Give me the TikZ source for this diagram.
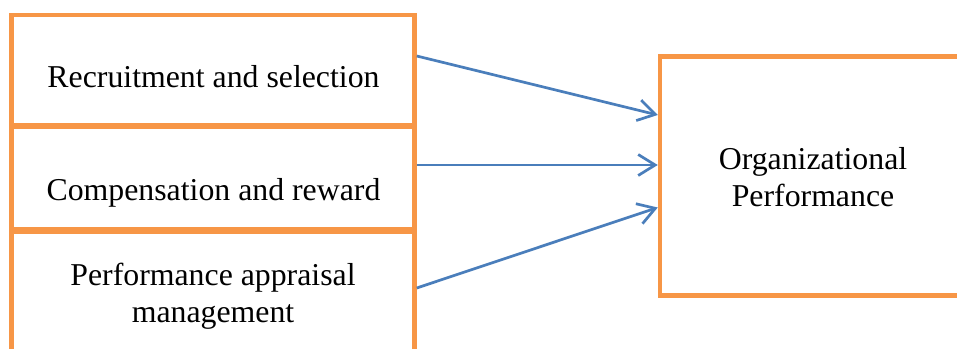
\documentclass[tikz,border=0pt]{standalone}
\usepackage{fontspec}
\setmainfont{Liberation Serif}
\usetikzlibrary{arrows.meta}
\definecolor{boxOrange}{HTML}{F79646}
\definecolor{arrBlue}{HTML}{4A7EBB}
\begin{document}
\begin{tikzpicture}[x=1pt,y=-1pt,
  hrmBox/.style={draw=boxOrange,line width=4.5pt,rectangle,inner sep=0pt},
  hrmText/.style={font=\fontsize{31.8}{37.5}\selectfont,inner sep=0pt,align=center},
  hrmArrow/.style={draw=arrBlue,line width=2.7pt,-{Straight Barb[length=17pt,width=21pt]}}]
\useasboundingbox (0,0) rectangle (957,348);
\clip (0,0) rectangle (957,348);

% left column
\node (cRecBox) [hrmBox,minimum width=403pt,minimum height=110.5pt] at (213,70.25) {};
\node (cComBox) [hrmBox,minimum width=403pt,minimum height=102.5pt] at (213,178.25) {};
\node (cPerBox) [hrmBox,minimum width=403pt,minimum height=138.5pt] at (213,300.75) {};
\node (cRecText) [hrmText,anchor=base] at (213.5,87) {Recruitment and selection};
\node (cComText) [hrmText,anchor=base] at (213.5,200) {Compensation and reward};
\node (cPerText) [hrmText] at (213,296) {Performance appraisal\\management};

% right box
\node (cOrgBox) [hrmBox,minimum width=310pt,minimum height=239pt] at (815,176) {};
\node (cOrgText) [hrmText] at (813,177) {Organizational\\Performance};

\coordinate (cS1Pt) at (cRecBox.east |- 0,56);
\coordinate (cS2Pt) at (cComBox.east |- 0,165);
\coordinate (cS3Pt) at (cPerBox.east |- 0,288);
\coordinate (cE1Pt) at (cOrgBox.west |- 0,115);
\coordinate (cE2Pt) at (cOrgBox.west |- 0,165);
\coordinate (cE3Pt) at (cOrgBox.west |- 0,207.5);
\foreach \s/\e in {S1Pt/E1Pt, S2Pt/E2Pt, S3Pt/E3Pt}
{
    \draw [hrmArrow](c\s)--(c\e);
};

\end{tikzpicture}
\end{document}
